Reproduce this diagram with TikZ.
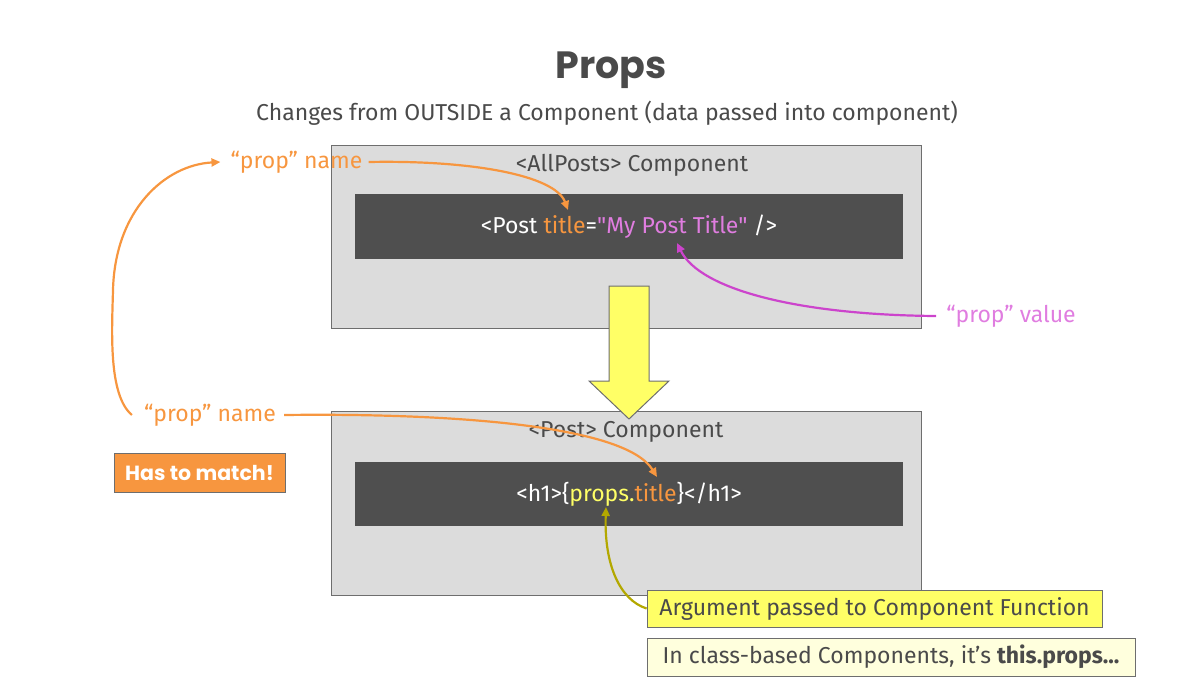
\documentclass[tikz,border=0pt]{standalone}
\usepackage{fontspec}
\setmainfont{Fira Sans}
\newfontfamily\titlefont{Poppins}
\usetikzlibrary{arrows.meta}
\definecolor{textgray}{HTML}{4A4A4A}
\definecolor{boxgray}{HTML}{DCDCDC}
\definecolor{linegray}{HTML}{6E6E6E}
\definecolor{codebg}{HTML}{4F4F4F}
\definecolor{orangec}{HTML}{F7963F}
\definecolor{pinkc}{HTML}{E07DE0}
\definecolor{pinkline}{HTML}{CC44CC}
\definecolor{yellowc}{HTML}{FFFF66}
\definecolor{olivec}{HTML}{B3A800}
\definecolor{paleyellow}{HTML}{FFFFDD}
\newcommand\straightq{\XeTeXglyph\XeTeXglyphindex "quotedbl"\relax}
\tikzset{
  comp/.style={draw=linegray,fill=boxgray,line width=1pt},
  code/.style={fill=codebg,text=white,font=\fontsize{23}{27}\selectfont},
  lbl/.style={inner sep=0pt,font=\fontsize{23}{27}\selectfont},
  note/.style={draw=linegray,line width=0.8pt,text=textgray,font=\fontsize{23}{27}\selectfont},
  hint/.style={line width=2.2pt,-{Triangle[length=9pt,width=8pt]}}
}
\begin{document}
\begin{tikzpicture}[x=1pt,y=-1pt]
\useasboundingbox (0,0) rectangle (1186,695);
\node[text=textgray,font=\titlefont\bfseries\fontsize{38}{42}\selectfont] (title) at (611,70) {Props};
\node[lbl,text=textgray] (sub) at (607,113) {Changes from OUTSIDE a Component (data passed into component)};
% outer component
\node[comp,minimum width=590,minimum height=182] (all) at (626,237) {};
\node[lbl,text=textgray] (alllbl) at (632,165) {<AllPosts> Component};
\node[code,minimum width=548,minimum height=65] (allcode) at (629,226.5)
  {<Post {\color{orangec}title}={\color{pinkc}\straightq My Post Title\straightq} />};
% inner component
\node[comp,minimum width=590,minimum height=184] (post) at (626,503) {};
\node[lbl,text=textgray] (postlbl) at (626,432) {<Post> Component};
\node[code,minimum width=548,minimum height=64] (postcode) at (629,494)
  {<h1>\{{\color{yellowc}props.}{\color{orangec}title}\}</h1>};
% big arrow
\draw[draw=linegray,fill=yellowc,line width=1pt]
  (609,286) -- (649,286) -- (649,381) -- (669,381) -- (629,419)
  -- (589,381) -- (609,381) -- cycle;
% labels
\node[lbl,text=orangec] (name1) at (296.5,162) {“prop” name};
\node[lbl,text=orangec] (name2) at (210,415) {“prop” name};
\node[lbl,text=pinkc] (val) at (1011,316) {“prop” value};
\node[draw=linegray,fill=orangec,text=white,line width=0.8pt,minimum width=171,minimum height=39,
  font=\titlefont\bfseries\fontsize{20.5}{22}\selectfont] (match) at (199.5,472.5) {Has to match!};
\node[note,fill=yellowc,minimum width=455,minimum height=37] (arg) at (874.5,608.5)
  {Argument passed to Component Function};
\node[note,fill=paleyellow,minimum width=488,minimum height=38] (cls) at (891,657)
  {In class-based Components, it’s \textbf{this.props...}};
% arrow ends
\coordinate (t1) at (568,210);
\coordinate (t2) at (657,477);
\coordinate (t3) at (677,243);
\coordinate (t4) at (606,507);
\draw[hint,orangec] ([xshift=6]name1.east) .. controls (470,160) and (555,175) .. (t1);
\draw[hint,orangec] ([xshift=-12]name2.west) .. controls (108,395) and (112,330) .. (113,290)
  .. controls (115,210) and (165,165) .. ([xshift=-10]name1.west);
\draw[hint,orangec] ([xshift=8]name2.east) .. controls (450,413) and (625,425) .. (t2);
\draw[hint,pinkline] ([xshift=-10]val.west) .. controls (800,315) and (700,290) .. (t3);
\draw[hint,olivec] (arg.west) .. controls (620,600) and (604,565) .. (t4);
\end{tikzpicture}
\end{document}
